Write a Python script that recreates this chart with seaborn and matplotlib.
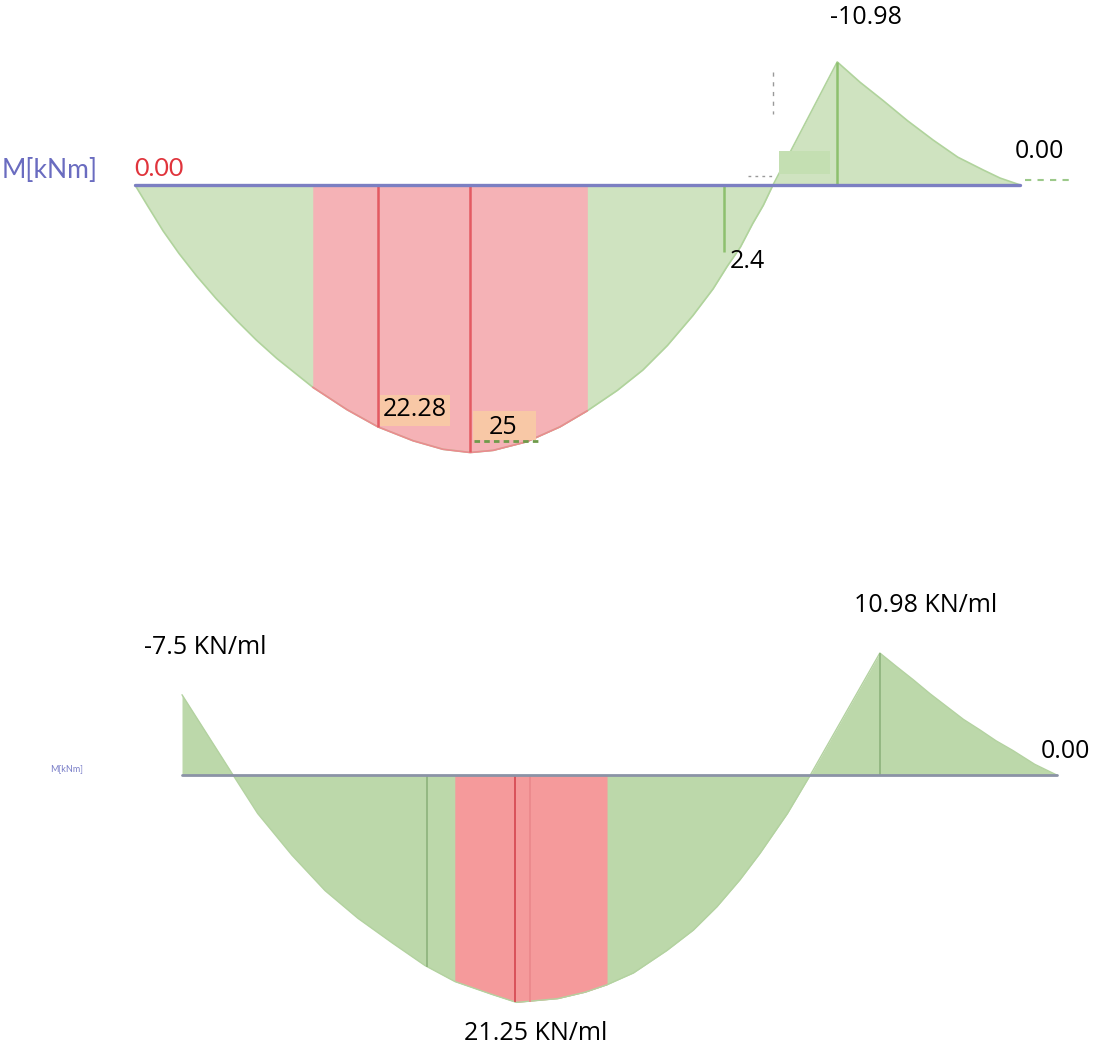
import seaborn as sns
import matplotlib.pyplot as plt
import pandas as pd
from matplotlib.patches import Rectangle
from matplotlib.lines import Line2D

# DATOS (x en m, M en kNm, positivo hacia abajo)
top_x = [0, 0.14, 0.32, 0.50, 0.70, 0.92, 1.16, 1.38, 1.61, 2.02, 2.41, 2.76, 3.16, 3.50,
         3.81, 4.07, 4.45, 4.83, 5.14, 5.48, 5.77, 6.05, 6.34, 6.57, 6.73, 6.88, 7.02,
         7.14, 7.25, 7.98, 8.24, 8.50, 8.78, 9.07, 9.35, 9.64, 9.83, 10.06]
top_m = [0, 1.9, 4.3, 6.4, 8.5, 10.6, 12.7, 14.5, 16.2, 18.9, 21.0, 22.6, 23.9, 24.7,
         25.0, 24.8, 24.0, 22.6, 21.1, 19.2, 17.3, 15.0, 12.2, 9.7, 7.6, 5.8, 3.6,
         1.9, 0, -11.5, -9.6, -7.9, -6.0, -4.2, -2.6, -1.4, -0.65, 0]
top_red = (2.02, 5.14)
top_red_lines_x = [2.76, 3.81]
top_red_lines_m = [22.6, 25.0]
top_green_lines_x = [6.69, 7.98]
top_green_lines_m = [6.3, -11.5]

bot_x = [0, 0.58, 0.86, 1.25, 1.625, 2.0, 2.39, 2.76, 3.10, 3.52, 3.80, 4.27, 4.58,
         4.83, 5.13, 5.51, 5.81, 6.08, 6.34, 6.57, 6.88, 7.14, 7.93, 8.11, 8.31, 8.50,
         8.69, 8.88, 9.07, 9.25, 9.44, 9.69, 9.94]
bot_m = [-7.5, 0, 3.6, 7.5, 10.8, 13.4, 15.7, 17.8, 19.3, 20.5, 21.25, 20.9, 20.3,
         19.6, 18.5, 16.4, 14.5, 12.3, 9.8, 7.3, 3.6, 0, -11.4, -10.2, -8.9, -7.6,
         -6.4, -5.2, -4.2, -3.2, -2.3, -1.0, 0]
bot_red = (3.10, 4.83)
bot_lines_x = [2.78, 3.78, 3.95, 7.93]
bot_lines_m = [17.9, 21.25, 21.2, -11.4]

W, H = 1097, 1051


def fx(px):
    return px / W


def fy(py):
    return 1 - py / H


sns.set_style("white")
plt.rcParams['font.family'] = ['Open Sans', 'DejaVu Sans']

fig = plt.figure(figsize=(W / 100, H / 100), dpi=100)

# ---- diagrama superior
ax1 = fig.add_axes([0, fy(525), 1, 525 / H])
ax1.set_xlim(-135 / 88, (W - 135) / 88)
ax1.set_ylim((525 - 185) / 10.7, -185 / 10.7)
ax1.axis('off')

dfTop = pd.DataFrame({'x': top_x, 'M': top_m})
ax1.fill_between(dfTop['x'], dfTop['M'], 0, color='#cfe3c0', lw=0)
enRojo = (dfTop['x'] >= top_red[0]) & (dfTop['x'] <= top_red[1])
ax1.fill_between(dfTop['x'][enRojo], dfTop['M'][enRojo], 0, color='#f5b2b6', lw=0)
sns.lineplot(data=dfTop, x='x', y='M', ax=ax1, color='#b0d39c', lw=1.2,
             sort=False, estimator=None)
sns.lineplot(data=dfTop[enRojo], x='x', y='M', ax=ax1, color='#ec8a8f', lw=1.2,
             sort=False, estimator=None)
ax1.vlines(top_red_lines_x, 0, top_red_lines_m, color='#e35a62', lw=1.8)
ax1.vlines(top_green_lines_x, 0, top_green_lines_m, color='#8dc06e', lw=1.8)
ax1.plot([top_x[0], top_x[-1]], [0, 0], color='#7c7fc2', lw=2.4, zorder=5)

fig.text(fx(2), fy(170), 'M[kNm]', color='#6a6cc0', fontsize=19,
         family=['Lato', 'DejaVu Sans'], va='center', ha='left')
fig.text(fx(134), fy(168), '0.00', color='#e0343c', fontsize=18,
         family=['Lato', 'DejaVu Sans'], va='center', ha='left')
fig.text(fx(866), fy(18), '-10.98', fontsize=18, color='black', va='center', ha='center')
fig.text(fx(1039), fy(152), '0.00', fontsize=18, color='black', va='center', ha='center')
fig.text(fx(730), fy(262), '2.4', fontsize=18, color='black', va='center', ha='left')

# etiquetas con caja
fig.patches.append(Rectangle((fx(380), fy(426)), 70 / W, 31 / H, transform=fig.transFigure,
                             facecolor='#f8c8a6', edgecolor='none', zorder=3))
fig.text(fx(415), fy(410), '22.28', fontsize=18, color='black', va='center', ha='center',
         zorder=4)
fig.add_artist(Line2D([fx(474), fx(540)], [fy(441), fy(441)], color='#6f9a4a', lw=2,
                      ls=(0, (2, 1.5))))
fig.patches.append(Rectangle((fx(473), fy(440)), 63 / W, 29 / H, transform=fig.transFigure,
                             facecolor='#f8c8a6', edgecolor='none', zorder=3))
fig.text(fx(503), fy(428), '25', fontsize=18, color='black', va='center', ha='center',
         zorder=4)

fig.patches.append(Rectangle((fx(779), fy(174)), 51 / W, 23 / H, transform=fig.transFigure,
                             facecolor='#c4dfb2', edgecolor='none', zorder=3))
fig.add_artist(Line2D([fx(773), fx(773)], [fy(72), fy(114)], color='#999999', lw=1,
                      ls=(0, (3, 4))))
fig.add_artist(Line2D([fx(748), fx(775)], [fy(176), fy(176)], color='#999999', lw=1,
                      ls=(0, (2, 3))))
fig.add_artist(Line2D([fx(1025), fx(1072)], [fy(180), fy(180)], color='#9cc98a', lw=1.5,
                      ls=(0, (3, 3))))

# ---- diagrama inferior
ax2 = fig.add_axes([0, 0, 1, 526 / H])
ax2.set_xlim(-182 / 88, (W - 182) / 88)
ax2.set_ylim((H - 775) / 10.7, (525 - 775) / 10.7)
ax2.axis('off')

dfBot = pd.DataFrame({'x': bot_x, 'M': bot_m})
ax2.fill_between(dfBot['x'], dfBot['M'], 0, color='#bcd8aa', lw=0)
enRojo2 = (dfBot['x'] >= bot_red[0]) & (dfBot['x'] <= bot_red[1])
ax2.fill_between(dfBot['x'][enRojo2], dfBot['M'][enRojo2], 0, color='#f59a9b', lw=0)
sns.lineplot(data=dfBot, x='x', y='M', ax=ax2, color='#b3d2a0', lw=1,
             sort=False, estimator=None)
ax2.vlines(bot_lines_x, 0, bot_lines_m,
           color=['#93b882', '#d9525a', '#ec8a8d', '#93b882'], lw=1.4)
ax2.plot([bot_x[0], bot_x[-1]], [0, 0], color='#8b93a6', lw=2, zorder=5)

fig.text(fx(50), fy(769), 'M[kNm]', color='#7a7fc8', fontsize=6.5,
         family=['Lato', 'DejaVu Sans'], va='center', ha='left')
fig.text(fx(205), fy(648), '-7.5 KN/ml', fontsize=18, color='black', va='center',
         ha='center')
fig.text(fx(926), fy(605), '10.98 KN/ml', fontsize=18, color='black', va='center',
         ha='center')
fig.text(fx(1065), fy(752), '0.00', fontsize=18, color='black', va='center', ha='center')
fig.text(fx(536), fy(1033), '21.25 KN/ml', fontsize=18, color='black', va='center',
         ha='center')

plt.savefig('out.png', dpi=100)
